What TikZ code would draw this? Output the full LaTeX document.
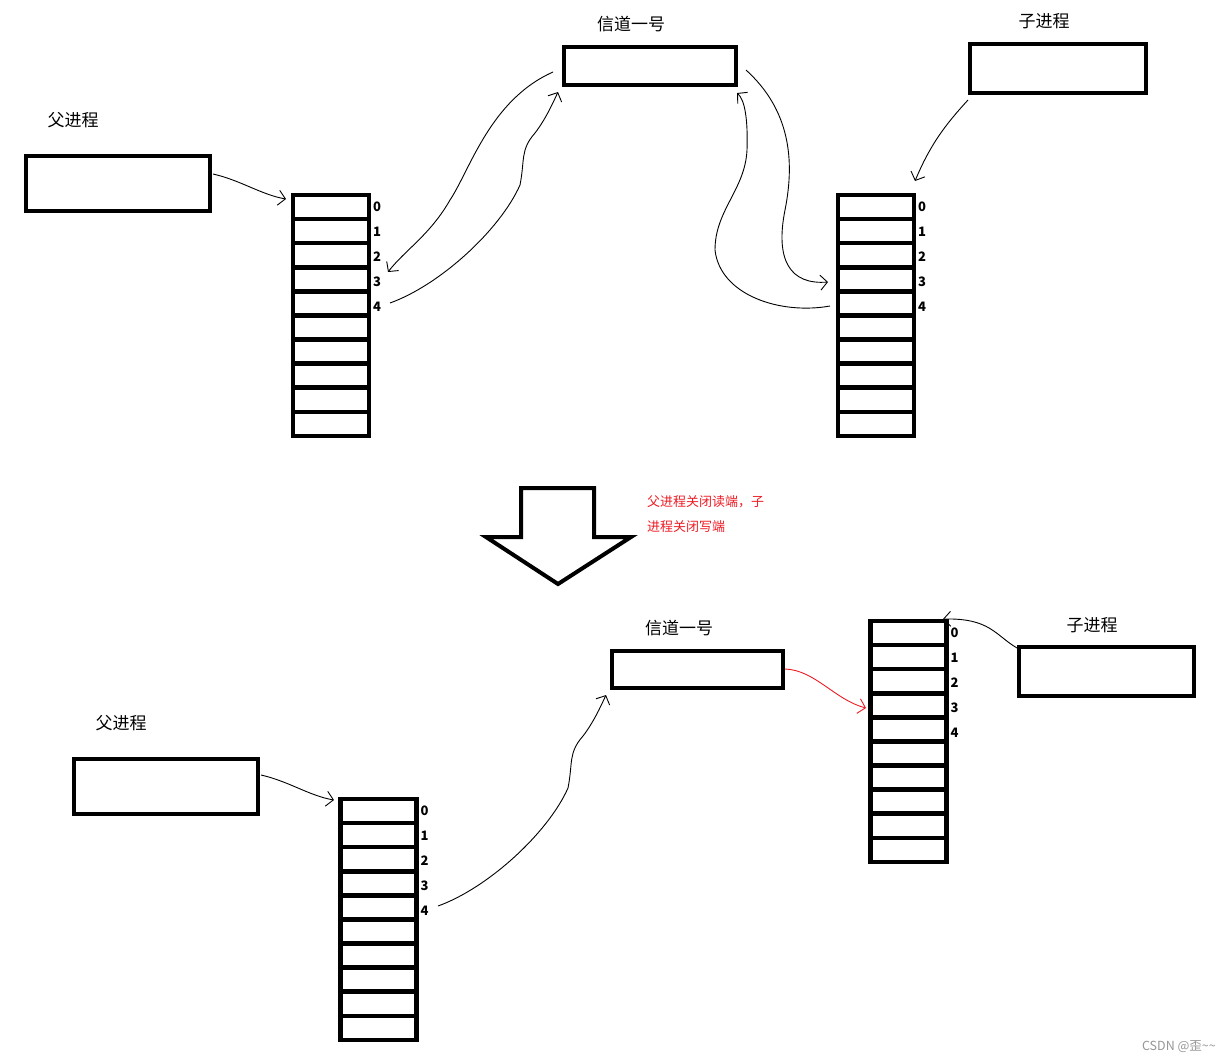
\documentclass[tikz,border=0pt]{standalone}
\usepackage{fontspec}
\newfontfamily\cjk{Noto Sans CJK SC}
\usetikzlibrary{arrows.meta}
\definecolor{myred}{RGB}{237,28,36}
\definecolor{mygray}{RGB}{150,150,150}
\newcommand\mylbl[1]{%
  \cjk\fontsize{17}{20}\selectfont%
  #1%
}

\begin{document}
\begin{tikzpicture}[x=1pt,y=-1pt]
  \useasboundingbox (0,0) rectangle (1230,1061);

  \tikzstyle{box}=[draw,line width=4pt,inner sep=0pt,outer sep=0pt]
  \tikzstyle{cell}=[box,line width=4.6pt,minimum width=76pt,minimum height=24.1pt]
  \tikzstyle{fdnum}=[anchor=west,inner sep=0pt,font=\cjk\bfseries\fontsize{13}{13}\selectfont]
  \tikzstyle{link}=[line width=0.9pt,-{Straight Barb[length=7pt,width=15pt]}]

  % upper half: before closing
  \node (plbl-a) at (73,120) {\mylbl{父进程}};
  \node (clbl-a) at (1044,21) {\mylbl{子进程}};
  \node (qlbl-a) at (631,24) {\mylbl{信道一号}};
  \node[box,minimum width=184pt,minimum height=55pt] (pbox-a) at (118,183.5) {};
  \node[box,minimum width=172pt,minimum height=38pt] (qbox-a) at (650,66) {};
  \node[box,minimum width=176pt,minimum height=49pt] (cbox-a) at (1058,68.5) {};

  % lower half: after closing
  \node (plbl-b) at (121,723) {\mylbl{父进程}};
  \node (clbl-b) at (1092,625) {\mylbl{子进程}};
  \node (qlbl-b) at (679,628) {\mylbl{信道一号}};
  \node[box,minimum width=184pt,minimum height=55pt] (pbox-b) at (166,786.5) {};
  \node[box,minimum width=171pt,minimum height=37pt] (qbox-b) at (697.5,669.5) {};
  \node[box,minimum width=175pt,minimum height=49pt] (cbox-b) at (1106.5,671.5) {};

  % file descriptor tables
  \foreach \tab/\x/\y in {pfd-a/331/195, cfd-a/876/195, pfd-b/378.5/799, cfd-b/908.5/621}
  {
    \foreach \i in {0,...,9}
      \node[cell] (\tab-\i) at (\x,\y+12+24.1*\i) {};
    \foreach \i in {0,...,4}
      \node[fdnum] (\tab-n\i) at (\x+42,\y+12+25*\i) {\i};
  }

  % free ends of the hand drawn connectors
  \coordinate (pa-out) at (213,174);   \coordinate (pa-in) at (286,199);
  \coordinate (qa-rd) at (553,72);     \coordinate (pa-rd) at (388,272);
  \coordinate (pa-wr) at (390,303);    \coordinate (qa-wr) at (558,92);
  \coordinate (qa-rd2) at (746,70);    \coordinate (ca-rd) at (828,282);
  \coordinate (ca-wr) at (830,306);    \coordinate (qa-wr2) at (737,93);
  \coordinate (ca-out) at (968,100);   \coordinate (ca-in) at (915,181);
  \coordinate (pb-out) at (261,775);   \coordinate (pb-in) at (334,800);
  \coordinate (pb-wr) at (438,906);    \coordinate (qb-wr) at (606,695);
  \coordinate (qb-rd) at (785,669);    \coordinate (cb-rd) at (866,708);
  \coordinate (cb-out) at (1017,648);  \coordinate (cb-in) at (943,619);

  \draw[link] (pa-out) .. controls (240,180) and (262,195) .. (pa-in);
  \draw[link] (qa-rd) .. controls (490,100) and (470,170) .. (450,200)
                      .. controls (430,235) and (405,250) .. (pa-rd);
  \draw[link] (pa-wr) .. controls (440,285) and (500,230) .. (520,185)
                      .. controls (525,160) and (520,150) .. (535,133)
                      .. controls (545,120) and (552,105) .. (qa-wr);
  \draw[link] (qa-rd2) .. controls (790,110) and (795,160) .. (785,210)
                       .. controls (775,260) and (790,285) .. (ca-rd);
  \draw[link] (ca-wr) .. controls (780,315) and (720,295) .. (715,250)
                      .. controls (715,210) and (745,190) .. (747,150)
                      .. controls (748,120) and (745,100) .. (qa-wr2);
  \draw[link] (ca-out) .. controls (945,125) and (930,145) .. (ca-in);

  \draw[link] (pb-out) .. controls (288,781) and (310,796) .. (pb-in);
  \draw[link] (pb-wr) .. controls (488,888) and (548,833) .. (568,788)
                      .. controls (573,763) and (568,753) .. (583,736)
                      .. controls (593,723) and (600,708) .. (qb-wr);
  \draw[link,myred] (qb-rd) .. controls (815,670) and (835,700) .. (cb-rd);
  \draw[link] (cb-out) .. controls (995,635) and (990,618) .. (cb-in);

  % big arrow in the middle
  \draw[line width=4pt,line join=miter] (521,488) -- (594,488) -- (594,537) -- (631,537)
    -- (558,584) -- (486,537) -- (521,537) -- cycle;
  \node[anchor=north west,align=left,inner sep=0pt,text=myred,
        font=\cjk\fontsize{13}{25}\selectfont] (note) at (647,495)
    {父进程关闭读端，子\\进程关闭写端};

  \node[anchor=east,inner sep=0pt,text=mygray,font=\cjk\fontsize{12.5}{13}\selectfont] (mark)
    at (1216,1047) {CSDN @歪\textasciitilde\textasciitilde};
\end{tikzpicture}
\end{document}
